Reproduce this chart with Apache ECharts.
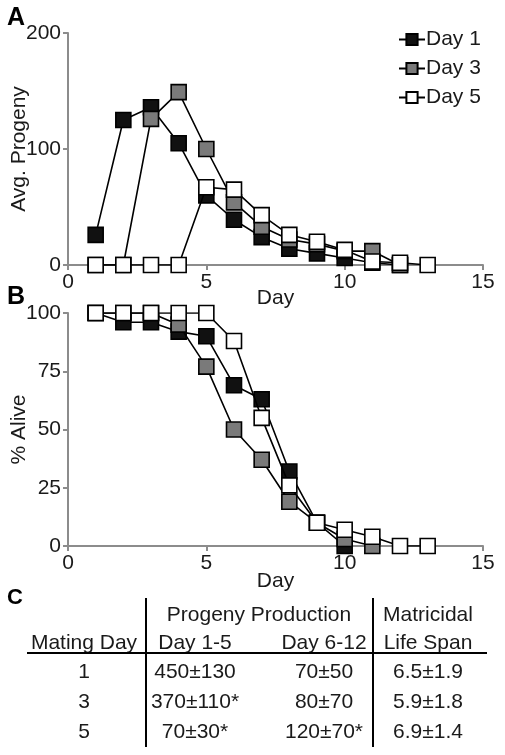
<!DOCTYPE html>
<html>
<head>
<meta charset="utf-8">
<script src="https://cdn.jsdelivr.net/npm/echarts@6/dist/echarts.min.js"></script>
<style>
html,body{margin:0;padding:0;background:#fff;}
#chart{width:505px;height:755px;}
</style>
</head>
<body>
<div id="chart"></div>
<script>
// ---------- data ----------
const days = [1, 2, 3, 4, 5, 6, 7, 8, 9, 10, 11, 12, 13];
const seriesNames = ['Day 1', 'Day 3', 'Day 5'];
const seriesFill = ['#111111', '#7a7a7a', '#ffffff'];

// Panel A: average progeny per day
const progenyDay1 = [26, 125, 136, 105, 60, 39, 24, 14, 10, 6, 2, 0];
const progenyDay3 = [0, 0, 126, 149, 100, 54, 33, 22, 18, 12, 12, 0];
const progenyDay5 = [0, 0, 0, 0, 67, 65, 43, 26, 20, 13, 3, 2, 0];

// Panel B: % alive per day
const aliveDay1 = [100, 96, 96, 92, 90, 69, 63, 32, 10, 0];
const aliveDay3 = [100, 100, 100, 95, 77, 50, 37, 19, 10, 3, 0];
const aliveDay5 = [100, 100, 100, 100, 100, 88, 55, 26, 10, 7, 4, 0, 0];

const xTicks = [0, 5, 10, 15];
const yTicksA = [0, 100, 200];
const yTicksB = [0, 25, 50, 75, 100];

// Panel C: table
const tableHeaderTop = ['Progeny Production', 'Matricidal'];
const tableHeaderBottom = ['Mating Day', 'Day 1-5', 'Day 6-12', 'Life Span'];
const matingDays = ['1', '3', '5'];
const progenyEarly = ['450±130', '370±110*', '70±30*'];
const progenyLate = ['70±50', '80±70', '120±70*'];
const lifeSpan = ['6.5±1.9', '5.9±1.8', '6.9±1.4'];

// ---------- chart ----------
const FONT = '"Liberation Sans", Arial, sans-serif';
const TXT = '#1a1a1a';
const AXIS = '#8c8c8c';

function pairs(arr) { return arr.map((v, i) => [days[i], v]); }

function mkX(gridIndex, gap) {
  return {
    type: 'value', gridIndex: gridIndex, min: 0, max: 15, interval: 5,
    name: 'Day', nameLocation: 'middle', nameGap: gap, nameMoveOverlap: false,
    nameTextStyle: { fontFamily: FONT, fontSize: 21, color: TXT },
    axisLine: { lineStyle: { color: AXIS, width: 2 } },
    axisTick: { show: true, length: 5, lineStyle: { color: AXIS, width: 2 } },
    axisLabel: { fontFamily: FONT, fontSize: 21, color: TXT, margin: 7 },
    splitLine: { show: false }
  };
}
function mkY(gridIndex, max, interval, name) {
  return {
    type: 'value', gridIndex: gridIndex, min: 0, max: max, interval: interval,
    name: name, nameLocation: 'middle', nameGap: 38, nameMoveOverlap: false,
    nameTextStyle: { fontFamily: FONT, fontSize: 21, color: TXT },
    axisLine: { show: true, lineStyle: { color: AXIS, width: 2 } },
    axisTick: { show: true, length: 5, lineStyle: { color: AXIS, width: 2 } },
    axisLabel: { fontFamily: FONT, fontSize: 21, color: TXT, margin: 7 },
    splitLine: { show: false }
  };
}
function mkSeries(idx, data, xi) {
  return {
    type: 'line', name: seriesNames[idx], xAxisIndex: xi, yAxisIndex: xi,
    data: pairs(data), symbol: 'rect', symbolSize: 15, showSymbol: true,
    lineStyle: { color: '#000', width: 1.6 },
    itemStyle: { color: seriesFill[idx], borderColor: '#000', borderWidth: 1.6 },
    animation: false, z: 2 + idx
  };
}

// table graphics
const graphics = [];
function txt(x, y, s, opts) {
  graphics.push(Object.assign({
    type: 'text', x: x, y: y,
    style: { text: s, font: '21px ' + FONT, fill: TXT, textAlign: 'center', textVerticalAlign: 'middle' }
  }, opts || {}));
}
// panel letters
graphics.push({ type: 'text', left: 7, top: 6, style: { text: 'A', font: 'bold 25px ' + FONT, fill: '#000' } });
graphics.push({ type: 'text', left: 7, top: 285, style: { text: 'B', font: 'bold 25px ' + FONT, fill: '#000' } });
graphics.push({ type: 'text', left: 7, top: 587, style: { text: 'C', font: 'bold 22px ' + FONT, fill: '#000' } });

const colX = [84, 195, 324, 428];
const rowY = [672, 702, 732];
txt(259, 615, tableHeaderTop[0]);
txt(colX[3], 615, tableHeaderTop[1]);
tableHeaderBottom.forEach((h, i) => txt(colX[i], 643, h));
matingDays.forEach((v, i) => {
  txt(colX[0], rowY[i], v);
  txt(colX[1], rowY[i], progenyEarly[i]);
  txt(colX[2], rowY[i], progenyLate[i]);
  txt(colX[3], rowY[i], lifeSpan[i]);
});
graphics.push({ type: 'line', shape: { x1: 27, y1: 653, x2: 487, y2: 653 }, style: { stroke: '#000', lineWidth: 2 } });
graphics.push({ type: 'line', shape: { x1: 146, y1: 598, x2: 146, y2: 747 }, style: { stroke: '#000', lineWidth: 2 } });
graphics.push({ type: 'line', shape: { x1: 373, y1: 598, x2: 373, y2: 747 }, style: { stroke: '#000', lineWidth: 2 } });

const chart = echarts.init(document.getElementById('chart'), null, { renderer: 'canvas' });
chart.setOption({
  backgroundColor: '#fff',
  animation: false,
  textStyle: { fontFamily: FONT },
  grid: [
    { left: 68, top: 33, width: 415, height: 232, containLabel: false, outerBoundsMode: 'none' },
    { left: 68, top: 313, width: 415, height: 233, containLabel: false, outerBoundsMode: 'none' }
  ],
  xAxis: [mkX(0, 23), mkX(1, 25)],
  yAxis: [mkY(0, 200, 100, 'Avg. Progeny'), mkY(1, 100, 25, '% Alive')],
  legend: {
    orient: 'vertical', left: 393, top: 24, itemGap: 8,
    itemWidth: 26, itemHeight: 14,
    data: seriesNames,
    textStyle: { fontFamily: FONT, fontSize: 21, color: TXT, padding: [0, 0, 0, -4] }
  },
  series: [
    mkSeries(0, progenyDay1, 0), mkSeries(1, progenyDay3, 0), mkSeries(2, progenyDay5, 0),
    mkSeries(0, aliveDay1, 1), mkSeries(1, aliveDay3, 1), mkSeries(2, aliveDay5, 1)
  ],
  graphic: graphics
});
</script>
</body>
</html>
